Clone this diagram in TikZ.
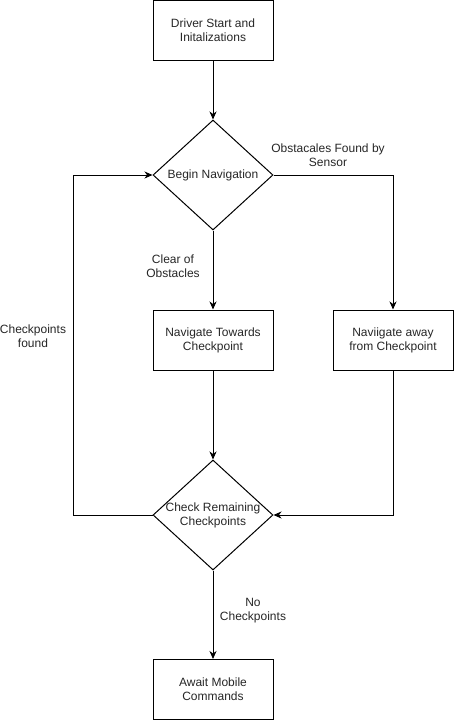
\documentclass[tikz,border=0pt]{standalone}
\usepackage{fontspec}
\setmainfont{Liberation Sans}
\usetikzlibrary{arrows.meta,shapes.geometric}
\begin{document}
\begin{tikzpicture}[x=1pt,y=-1pt,
  every node/.style={font=\fontsize{12}{14}\selectfont, align=center, text=black!80},
  procbox/.style={draw=black, line width=1pt, minimum width=120pt, minimum height=60pt, inner sep=0pt, text=black!85},
  decision/.style={draw=black, line width=1pt, diamond, minimum width=120pt, minimum height=110pt, inner sep=0pt, aspect=1.09},
  flow/.style={draw=black, line width=1pt, -{Stealth[length=8pt,width=7pt,inset=2.5pt]}},
  lbl/.style={inner sep=0pt, text=black!85}]
\useasboundingbox (0,0) rectangle (454,721);
\node[procbox] (start) at (213,30.5) {Driver Start and\\Initalizations};
\node[decision, label={[text=black!85]center:Begin Navigation}] (begin) at (213,175) {};
\node[procbox] (towards) at (213,340) {Navigate Towards\\Checkpoint};
\node[procbox] (away) at (393,340) {Naviigate away\\from Checkpoint};
\node[decision, label={[text=black!85]center:Check Remaining\\Checkpoints}] (check) at (213,515) {};
\node[procbox] (await) at (213,689.5) {Await Mobile\\Commands};

\coordinate (loopL) at (73,515);
\coordinate (loopT) at (73,175);

\draw[flow] (start) -- (begin);
\draw[flow] (begin.east) -| (away.north);
\draw[flow] (begin.south) -- (towards.north);
\draw[flow] (towards.south) -- (check.north);
\draw[flow] (away.south) |- (check.east);
\draw[flow] (check.west) -- (loopL) -- (loopT) -- (begin.west);
\draw[flow] (check.south) -- (await.north);

\node[lbl] (lobs) at (328,155) {Obstacales Found by\\Sensor};
\node[lbl] (lclear) at (173,266) {Clear of\\Obstacles};
\node[lbl] (lfound) at (33,336) {Checkpoints\\found};
\node[lbl] (lnone) at (253,611) {No\\Checkpoints};
\end{tikzpicture}
\end{document}
